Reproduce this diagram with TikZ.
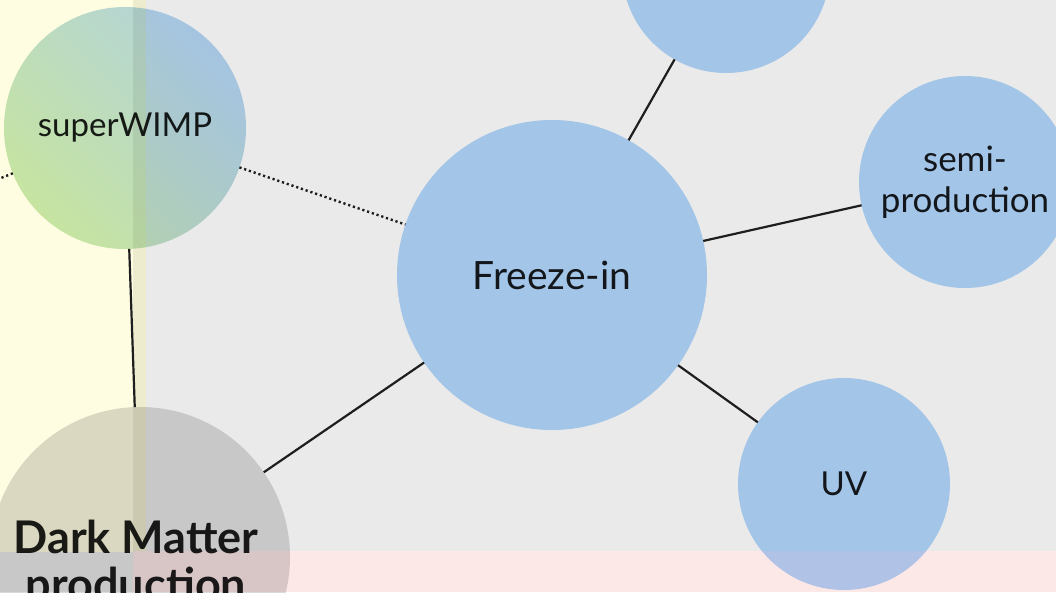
\documentclass[tikz,border=0pt]{standalone}
\usepackage{fontspec}
\setmainfont{Lato}
\usepackage{tikz}
\usepackage{xcolor}
\definecolor{slate}{HTML}{EAEAEA}
\definecolor{cream}{HTML}{FFFDE1}
\definecolor{creamedge}{HTML}{EEECCF}
\definecolor{blush}{HTML}{FDE8E8}
\definecolor{ink}{HTML}{1E1E1E}
\definecolor{skyfill}{HTML}{B2D7FD}
\definecolor{ashfill}{HTML}{DADADA}
\definecolor{leaf}{HTML}{C6E6B6}
\definecolor{mist}{HTML}{B4D6F6}
\tikzset{
  bubble/.style={circle,inner sep=0pt,outer sep=0pt,align=center,
                 text=ink,font=\fontsize{35}{41}\selectfont},
  skybubble/.style={bubble,fill=skyfill},
  link/.style={draw=ink,line width=2.2pt},
  dotlink/.style={draw=ink,line width=2.4pt,dash pattern=on 2.2pt off 2.8pt}
}

\begin{document}
\begin{tikzpicture}[x=1pt,y=-1pt]
    \path[use as bounding box] (0,0) rectangle (1056,592);
    \clip (0,0) rectangle (1056,592);
    % backdrop panels
    \fill[slate] (0,0) rectangle (1056,592);
    \fill[cream] (0,0) rectangle (146,552);
    \fill[creamedge] (133,0) rectangle (146,552);
    \fill[blush] (133,551) rectangle (1056,592);

    \begin{scope}[blend mode=multiply]
      \node[skybubble,minimum size=310pt,font=\fontsize{39}{44}\selectfont]
        (freeze) at (552,275) {Freeze-in};
      \node[skybubble,minimum size=208pt] (upper) at (726,-31) {};
      \node[skybubble,minimum size=212pt] (semi) at (965,182) {semi-\\production};
      \node[skybubble,minimum size=212pt,font=\fontsize{33}{41}\selectfont]
        (uv) at (844,484) {UV};
      \node[bubble,minimum size=242pt,bottom color=leaf,top color=mist,
            shading angle=-45,font=\fontsize{33}{36}\selectfont]
        (wimp) at (125,128) {superWIMP};
      \node[bubble,minimum size=300pt,fill=ashfill] (dmprod) at (140,557) {};
      \node[align=center,text=ink,inner sep=0pt,
            font=\fontsize{45}{47}\selectfont\bfseries] (dmtext) at (136,564)
        {Dark Matter\\production};
    \end{scope}
    \coordinate (offleft) at (-160,243);

    \draw[link] (freeze) -- (upper);
    \draw[link] (freeze) -- (semi);
    \draw[link] (freeze) -- (uv);
    \draw[link] (freeze) -- (dmprod);
    \draw[link] (wimp) -- (dmprod);
    \draw[dotlink] (wimp) -- (freeze);
    \draw[dotlink] (wimp) -- (offleft);
\end{tikzpicture}
\end{document}
